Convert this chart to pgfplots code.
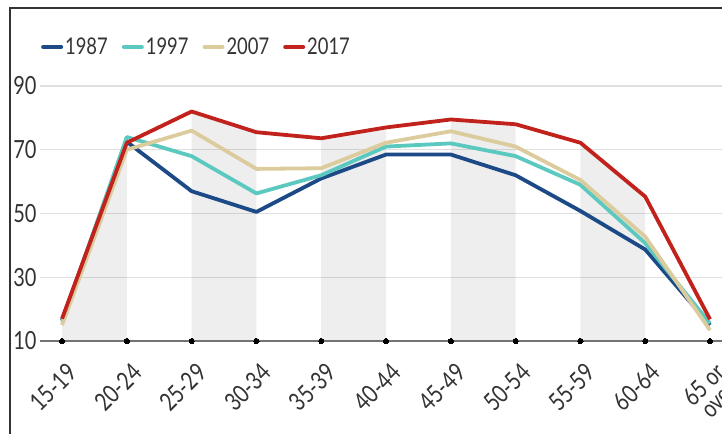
\documentclass[border=0pt]{standalone}
\usepackage{fontspec}
\setmainfont{Lato}[FakeStretch=0.8]
\usepackage{pgfplots}
\pgfplotsset{compat=1.18}
\definecolor{c87}{HTML}{1B4A86}
\definecolor{c97}{HTML}{5CC9C1}
\definecolor{c07}{HTML}{DCCB9C}
\definecolor{c17}{HTML}{C1221B}
\definecolor{txt}{HTML}{333333}
\begin{document}
\begin{tikzpicture}[x=1pt,y=1pt]
\useasboundingbox (-40,-93) rectangle (682,341);
\draw[black!80, line width=1.2pt] (-30,-93) -- (-30,333) -- (682,333);
\begin{axis}[
  at={(0,0)}, anchor=south west, scale only axis,
  width=682pt, height=255pt,
  xmin=-0.34, xmax=10.185, ymin=10, ymax=90, clip=false,
  axis line style={draw=none}, major tick length=0pt,
  /pgf/number format/assume math mode=true,
  xtick={0,...,10},
  xticklabels={15-19,20-24,25-29,30-34,35-39,40-44,45-49,50-54,55-59,60-64,{65 or\\over}},
  ytick={10,30,50,70,90},
  ymajorgrids, grid style={black!12, line width=1.2pt},
  yticklabel style={font=\fontsize{25}{24}\selectfont, text=txt, xshift=0pt},
  xticklabel style={font=\fontsize{25}{21}\selectfont, text=txt, rotate=45, anchor=north east, align=center, xshift=-8.5pt, yshift=-14pt},
  legend style={at={(-0.003,1.153)}, anchor=west, draw=none, fill=none,
    legend columns=4, font=\fontsize{23}{25}\selectfont, text=txt,
    /tikz/every even column/.append style={column sep=12pt}},
  legend image code/.code={\draw[#1, line width=4pt, line cap=round] (0pt,0pt) -- (18pt,0pt);},
  every axis plot/.append style={line width=3.8pt, line join=round},
]
\addplot[fill=black, fill opacity=0.065, draw=none, forget plot] coordinates {(0,10)(0,17)(1,72.2)(1,10)} -- cycle;
\addplot[fill=black, fill opacity=0.065, draw=none, forget plot] coordinates {(2,10)(2,82)(3,75.5)(3,10)} -- cycle;
\addplot[fill=black, fill opacity=0.065, draw=none, forget plot] coordinates {(4,10)(4,73.6)(5,77)(5,10)} -- cycle;
\addplot[fill=black, fill opacity=0.065, draw=none, forget plot] coordinates {(6,10)(6,79.5)(7,78)(7,10)} -- cycle;
\addplot[fill=black, fill opacity=0.065, draw=none, forget plot] coordinates {(8,10)(8,72.2)(9,55.3)(9,10)} -- cycle;
\draw[black!55, line width=2pt] (rel axis cs:0,0) -- (rel axis cs:1,0);
\addplot[c87] coordinates {(0,16.5)(1,72.5)(2,57)(3,50.5)(4,61)(5,68.5)(6,68.5)(7,62)(8,50.8)(9,38.7)(10,15)};
\addplot[c97] coordinates {(0,16)(1,74)(2,68)(3,56.3)(4,62)(5,71)(6,72)(7,68)(8,59)(9,40.7)(10,15.5)};
\addplot[c07] coordinates {(0,15)(1,70)(2,76)(3,64)(4,64.2)(5,72.2)(6,75.8)(7,71)(8,60.5)(9,42.7)(10,13.4)};
\addplot[c17] coordinates {(0,17)(1,72.2)(2,82)(3,75.5)(4,73.6)(5,77)(6,79.5)(7,78)(8,72.2)(9,55.3)(10,16.8)};
\legend{1987,1997,2007,2017}
\addplot[only marks, mark=*, mark size=2.6pt, black, line width=0pt, forget plot] coordinates {(0,10)(1,10)(2,10)(3,10)(4,10)(5,10)(6,10)(7,10)(8,10)(9,10)(10,10)};
\end{axis}
\end{tikzpicture}
\end{document}
